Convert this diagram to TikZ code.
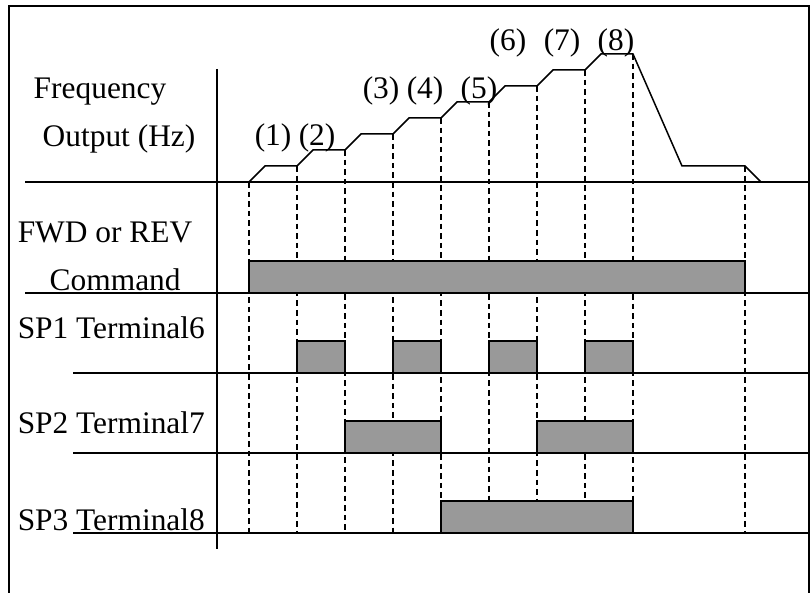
\documentclass[tikz,border=0pt]{standalone}
\usepackage{fontspec}
\setmainfont{Liberation Serif}
\usepackage{tikz}

\begin{document}
\begin{tikzpicture}[x=0.5pt, y=-0.5pt, line width=0.75pt, every node/.style={font=\fontsize{15.7}{18}\selectfont, inner sep=0pt, anchor=base west}, bar/.style={fill=black!40, draw=black, line width=0.8pt}, guide/.style={dash pattern=on 2.8pt off 2pt, line width=0.7pt}]
	\useasboundingbox (0,0) rectangle (811,593);
	\draw[line width=1pt] (9,593) -- (9,6) -- (809,6) -- (809,593);
	\draw (217,69) -- (217,549);
	\draw (25,182) -- (809,182);
	\draw (25,293) -- (809,293);
	\foreach \y in {373,453,533}
		\draw (73,\y) -- (809,\y);
	\foreach \i in {0,...,8}
		\draw[guide] (249+48*\i,182-16*\i) -- (249+48*\i,533);
	\draw[guide] (745,166) -- (745,533);
	\draw (249,182) \foreach \i in {1,...,8} { -- (217+48*\i,182-16*\i) -- (249+48*\i,182-16*\i) } -- (682,166) -- (745,166) -- (761,182);
	\filldraw[bar] (249,261) rectangle (745,293);
	\foreach \a in {297,393,489,585}
		\filldraw[bar] (\a,341) rectangle (\a+48,373);
	\foreach \a in {345,537}
		\filldraw[bar] (\a,421) rectangle (\a+96,453);
	\filldraw[bar] (441,501) rectangle (633,533);
	\node (freq) at (33,99) {Frequency};
	\node (out) at (42,147) {Output (Hz)};
	\node (fwd) at (17,243) {FWD or REV};
	\node (cmd) at (49,291) {Command};
	\node (sp1) at (17,339) {SP1 Terminal6};
	\node (sp2) at (17,434) {SP2 Terminal7};
	\node (sp3) at (17,531) {SP3 Terminal8};
	\node (s1) at (254,146) {(1)};
	\node (s2) at (298,146) {(2)};
	\node (s3) at (362,99) {(3)};
	\node (s4) at (406,99) {(4)};
	\node (s5) at (460,99) {(5)};
	\node (s6) at (489,51) {(6)};
	\node (s7) at (543,51) {(7)};
	\node (s8) at (597,51) {(8)};
\end{tikzpicture}
\end{document}
